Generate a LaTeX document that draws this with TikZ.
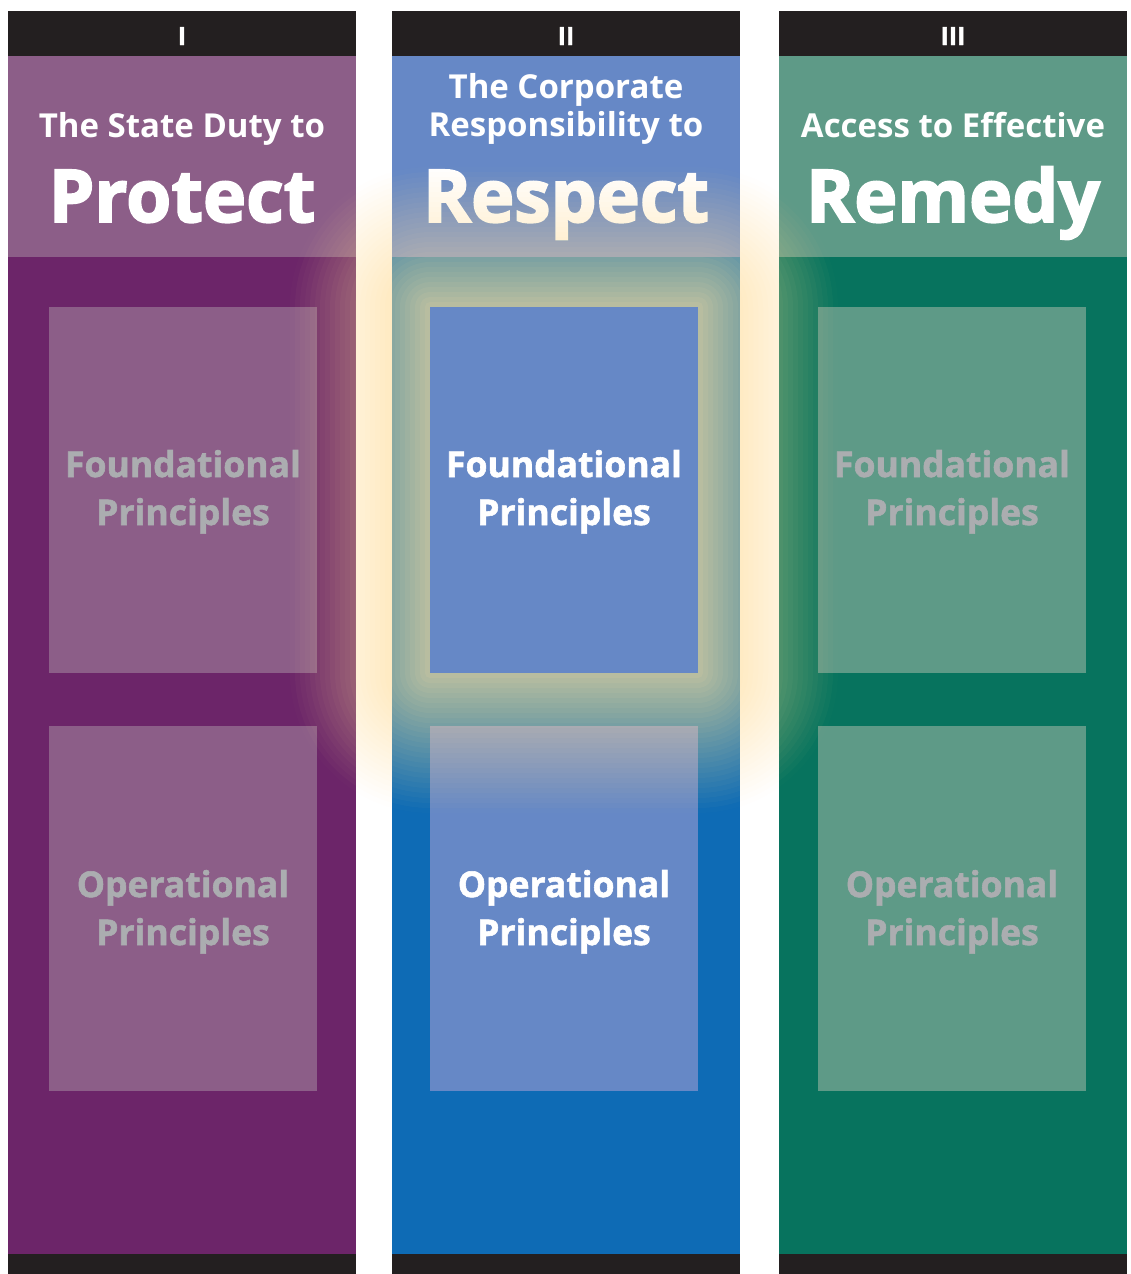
\documentclass[tikz,border=0pt]{standalone}
\usepackage{fontspec}
\setmainfont{Open Sans}
\newfontfamily\heavyfont[BoldFont=*, BoldFeatures={FakeBold=1.6}]{Open Sans Bold}
\newfontfamily\blackfont[BoldFont=*, BoldFeatures={FakeBold=2.5}]{Open Sans Bold}
\definecolor{barblack}{HTML}{231F20}
\definecolor{purphead}{HTML}{8C5E88}
\definecolor{purpbody}{HTML}{6C2569}
\definecolor{bluehead}{HTML}{6688C6}
\definecolor{bluebody}{HTML}{0E6BB5}
\definecolor{greenhead}{HTML}{5E9A87}
\definecolor{greenbody}{HTML}{07735E}
\definecolor{dimtext}{HTML}{ABADB0}
\definecolor{glowcol}{HTML}{FFE2A0}
\tikzset{
  numtext/.style={font=\heavyfont\bfseries\fontsize{25}{28}\selectfont, text=white, anchor=base, inner sep=0pt},
  subtext/.style={font=\bfseries\fontsize{33}{36}\selectfont, text=white, anchor=base, inner sep=0pt},
  bigtext/.style={font=\blackfont\bfseries\fontsize{73}{80}\selectfont, text=white, anchor=base, inner sep=0pt},
  boxtext/.style={font=\heavyfont\bfseries\fontsize{35.5}{38}\selectfont, anchor=base, inner sep=0pt},
}
\begin{document}
\begin{tikzpicture}[x=1pt,y=-1pt]
\useasboundingbox (0,0) rectangle (1131,1274);
\fill[white] (0,0) rectangle (1131,1274);
% columns
\foreach \xo/\hc/\bc in {8/purphead/purpbody, 392/bluehead/bluebody, 779/greenhead/greenbody}{
  \fill[barblack] (\xo,11) rectangle (\xo+348,56);
  \fill[\hc] (\xo,56) rectangle (\xo+348,257);
  \fill[\bc] (\xo,257) rectangle (\xo+348,1254);
  \fill[barblack] (\xo,1254) rectangle (\xo+348,1274);
}
% inner boxes (except the highlighted one)
\fill[purphead] (49,307) rectangle (317,673);
\fill[purphead] (49,726) rectangle (317,1091);
\fill[bluehead] (430,726) rectangle (698,1091);
\fill[greenhead] (818,307) rectangle (1086,673);
\fill[greenhead] (818,726) rectangle (1086,1091);
% numerals
\node[numtext] (n1) at (182,45) {I};
\node[numtext] (n2) at (566,45) {II};
\node[numtext] (n3) at (953,45) {III};
% headers
\node[subtext] (s1) at (182,137) {The State Duty to};
\node[bigtext] (b1) at (182,222) {Protect};
\node[subtext] (s2a) at (566,98) {The Corporate};
\node[subtext] (s2b) at (566,136) {Responsibility to};
\node[bigtext] (b2) at (566,222) {Respect};
\node[subtext] (s3) at (953,137) {Access to Effective};
\node[bigtext] (b3) at (953,222) {Remedy};
% box texts
\node[boxtext, text=dimtext] (f1a) at (183,477) {Foundational};
\node[boxtext, text=dimtext] (f1b) at (183,525) {Principles};
\node[boxtext, text=dimtext] (o1a) at (183,897) {Operational};
\node[boxtext, text=dimtext] (o1b) at (183,945) {Principles};
\node[boxtext, text=white] (o2a) at (564,897) {Operational};
\node[boxtext, text=white] (o2b) at (564,945) {Principles};
\node[boxtext, text=dimtext] (f3a) at (952,477) {Foundational};
\node[boxtext, text=dimtext] (f3b) at (952,525) {Principles};
\node[boxtext, text=dimtext] (o3a) at (952,897) {Operational};
\node[boxtext, text=dimtext] (o3b) at (952,945) {Principles};
% glow
\foreach \k in {28,...,1}{
  \pgfmathsetmacro{\e}{5*\k}
  \pgfmathsetmacro{\ta}{1-0.75*max(0,1-(5*\k-2.5)/140)}
  \pgfmathsetmacro{\tb}{1-0.75*max(0,1-(5*\k+2.5)/140)}
  \pgfmathsetmacro{\op}{1-\ta/\tb}
  \fill[glowcol, fill opacity=\op, rounded corners=\e pt] (430-\e,307-\e) rectangle (698+\e,673+\e);
}
% highlighted box
\fill[bluehead] (430,307) rectangle (698,673);
\node[boxtext, text=white] (f2a) at (564,477) {Foundational};
\node[boxtext, text=white] (f2b) at (564,525) {Principles};
\end{tikzpicture}
\end{document}
